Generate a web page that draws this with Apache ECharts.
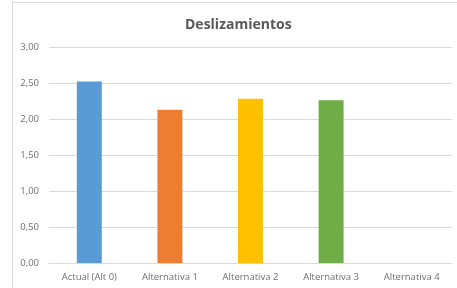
<!DOCTYPE html>
<html>
<head>
<meta charset="utf-8">
<script src="https://cdn.jsdelivr.net/npm/echarts@6/dist/echarts.min.js"></script>
<style>
  html, body { margin: 0; padding: 0; background: #fff; }
  #frame { position: absolute; left: 12px; top: 2px; width: 460px; height: 300px;
           border-left: 1px solid #d9d9d9; border-top: 1px solid #d9d9d9; }
  #chart { position: absolute; left: 0; top: 0; width: 457px; height: 288px; }
</style>
</head>
<body>
<div id="frame"></div>
<div id="chart"></div>
<script>
// datos
const categories = ["Actual (Alt 0)", "Alternativa 1", "Alternativa 2", "Alternativa 3", "Alternativa 4"];
const values = [2.52, 2.13, 2.28, 2.26, null];
const barColors = ["#5b9bd5", "#ed7d31", "#ffc000", "#70ad47", "#a5a5a5"];

const chart = echarts.init(document.getElementById("chart"));
chart.setOption({
  animation: false,
  title: {
    text: "Deslizamientos",
    left: 180,
    top: 13,
    textStyle: { fontFamily: "Open Sans", fontSize: 14, fontWeight: "bold", color: "#595959" }
  },
  grid: { left: 49, right: 5, top: 47, bottom: 25, containLabel: false },
  xAxis: {
    type: "category",
    data: categories,
    axisLine: { lineStyle: { color: "#d9d9d9" } },
    axisTick: { show: false },
    axisLabel: { fontFamily: "Open Sans", fontSize: 9.5, color: "#6e6e6e", margin: 9, interval: 0 }
  },
  yAxis: {
    type: "value",
    min: 0,
    max: 3,
    interval: 0.5,
    axisLine: { show: false },
    axisTick: { show: false },
    splitLine: { lineStyle: { color: "#d9d9d9" } },
    axisLabel: {
      fontFamily: "Open Sans", fontSize: 9.5, color: "#6e6e6e", margin: 10,
      formatter: v => v.toFixed(2).replace(".", ",")
    }
  },
  series: [{
    type: "bar",
    barWidth: "31%",
    data: values.map((v, i) => ({ value: v, itemStyle: { color: barColors[i] } }))
  }]
});
</script>
</body>
</html>
